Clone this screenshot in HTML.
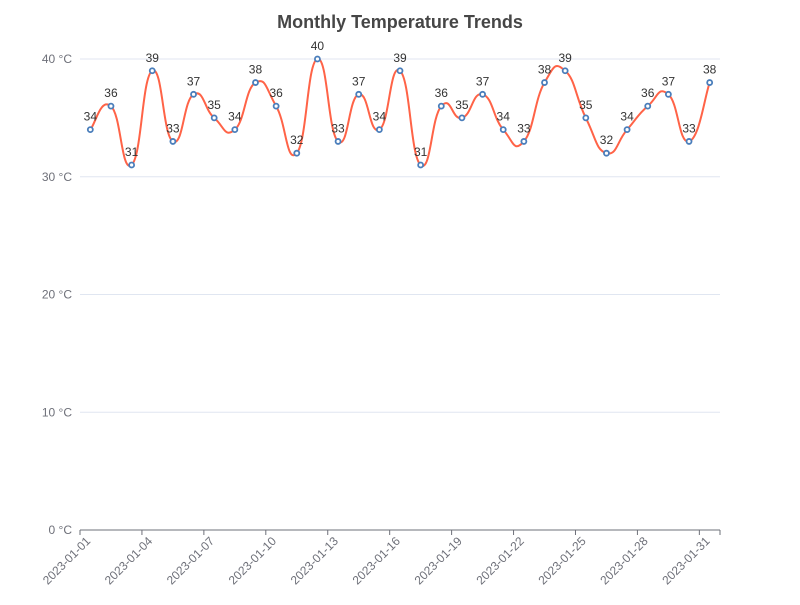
<!DOCTYPE html>
<html><head><meta charset="utf-8"><style>
body{margin:0;background:#fff;}
svg{font-family:"Liberation Sans",sans-serif;}
</style></head><body>
<svg id="chart" width="800" height="600">
<text x="400" y="28" text-anchor="middle" font-size="18" font-weight="bold" fill="#464646">Monthly Temperature Trends</text>
<g id="grid"></g><g id="xaxis"></g><g id="series"></g>
</svg>
<script>
const categories = [];
for (let d = 1; d <= 31; d++) categories.push('2023-01-' + String(d).padStart(2, '0'));
const temps = [34,36,31,39,33,37,35,34,38,36,32,40,33,37,34,39,31,36,35,37,34,33,38,39,35,32,34,36,37,33,38];
const yTicks = [0,10,20,30,40];
const NS = 'http://www.w3.org/2000/svg';
const L = 80, R = 720, T = 59, B = 530, yMax = 40;
const bw = (R - L) / categories.length;
const xs = i => L + bw * (i + 0.5);
const ys = v => B - (v / yMax) * (B - T);
function mk(tag, attrs, parent) { const e = document.createElementNS(NS, tag); for (const k in attrs) e.setAttribute(k, attrs[k]); parent.appendChild(e); return e; }
const grid = document.getElementById('grid');
yTicks.forEach(v => {
  if (v > 0) {
    const l = mk('line', {x1: L, x2: R, y1: ys(v), y2: ys(v), stroke: '#e0e6f1'}, grid);
    
    
  }
  const t = mk('text', {x: L - 8, y: ys(v) + 4, 'text-anchor': 'end', 'font-size': 12, fill: '#6e7079'}, grid);
  t.textContent = v + ' °C';
  
  
});
const xa = document.getElementById('xaxis');
const ax = mk('line', {x1: L, x2: R, y1: B, y2: B, stroke: '#6e7079'}, xa);


categories.forEach((c, i) => {
  if (i % 3 !== 0) return;
  const tx = L + bw * i;
  const tk = mk('line', {x1: tx, x2: tx, y1: B, y2: B + 5, stroke: '#6e7079'}, xa);
  
  
  const cx = xs(i) - 2, cy = B + 9;
  const t = mk('text', {x: cx, y: cy, 'text-anchor': 'end', 'font-size': 12, fill: '#6e7079', transform: `rotate(-45 ${cx} ${cy})`, dy: 4}, xa);
  t.textContent = c;
  
  
});
const tk2 = mk('line', {x1: R, x2: R, y1: B, y2: B + 5, stroke: '#6e7079'}, xa);


const se = document.getElementById('series');
const pts = temps.map((v, i) => [xs(i), ys(v)]);
let d = `M${pts[0][0]},${pts[0][1]}`;
const s = 0.5;
for (let i = 0; i < pts.length - 1; i++) {
  const p0 = pts[Math.max(0, i - 1)], p1 = pts[i], p2 = pts[i + 1], p3 = pts[Math.min(pts.length - 1, i + 2)];
  const c1 = [p1[0] + (p2[0] - p0[0]) * s / 2, p1[1] + (p2[1] - p0[1]) * s / 2];
  const c2 = [p2[0] - (p3[0] - p1[0]) * s / 2, p2[1] - (p3[1] - p1[1]) * s / 2];
  d += ` C${c1[0]},${c1[1]} ${c2[0]},${c2[1]} ${p2[0]},${p2[1]}`;
}
const line = mk('path', {d: d, fill: 'none', stroke: '#ff6347', 'stroke-width': 2}, se);


temps.forEach((v, i) => {
  const c = mk('circle', {cx: xs(i), cy: ys(v), r: 2.5, fill: '#fff', stroke: '#4a7ebb', 'stroke-width': 1.8}, se);
  
  
  const t = mk('text', {x: xs(i), y: ys(v) - 9, 'text-anchor': 'middle', 'font-size': 12, fill: '#333'}, se);
  t.textContent = v;
  
  
});
</script>
</body></html>
